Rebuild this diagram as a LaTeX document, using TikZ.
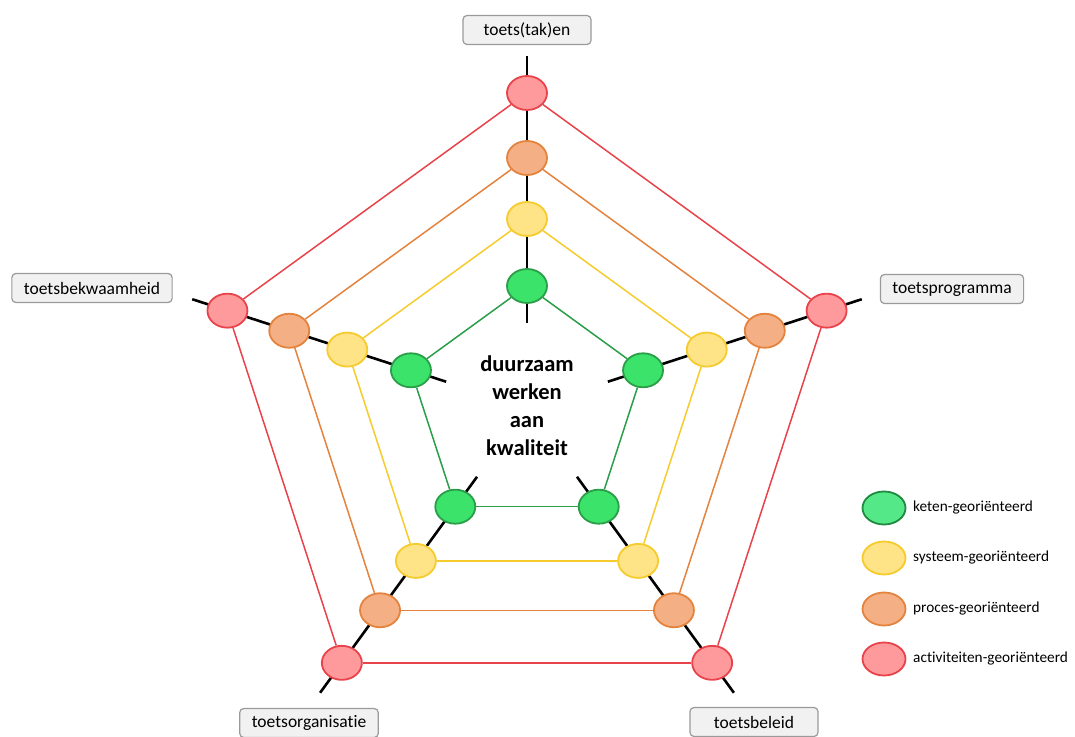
\documentclass[tikz,border=0pt]{standalone}
\usepackage{fontspec}
\setmainfont{Carlito}[Ligatures={NoCommon}]
\usetikzlibrary{shapes.geometric}
\definecolor{redfill}{HTML}{FF9A9C}
\definecolor{redline}{HTML}{E8434B}
\definecolor{orafill}{HTML}{F4B084}
\definecolor{oraline}{HTML}{E4833E}
\definecolor{yelfill}{HTML}{FFE487}
\definecolor{yelline}{HTML}{F5CB2E}
\definecolor{grnfill}{HTML}{3CE36B}
\definecolor{grnline}{HTML}{2A9E48}
\definecolor{grnfillL}{HTML}{55E888}
\definecolor{grnlineL}{HTML}{1F8A40}
\definecolor{boxfill}{HTML}{F1F1F1}
\definecolor{boxline}{HTML}{9A9A9A}
\begin{document}
\begin{tikzpicture}[x=1pt,y=1pt,
  dot/.style={ellipse, minimum width=40pt, minimum height=34pt, inner sep=0pt, line width=1.8pt},
  reddot/.style={dot, fill=redfill, draw=redline},
  oradot/.style={dot, fill=orafill, draw=oraline},
  yeldot/.style={dot, fill=yelfill, draw=yelline},
  grndot/.style={dot, fill=grnfill, draw=grnline},
  legdot/.style={ellipse, minimum width=43pt, minimum height=33pt, inner sep=0pt, line width=1.8pt},
  axis/.style={line width=2.6pt, black},
  ring/.style={line width=1.5pt},
  lbl/.style={draw=boxline, fill=boxfill, rounded corners=4pt, line width=1.2pt, font=\fontsize{17.5}{20}\selectfont, minimum height=29pt, minimum width=128pt, inner xsep=12pt},
  legtxt/.style={anchor=west, font=\fontsize{15.3}{18}\selectfont, inner sep=0pt}
]
\useasboundingbox (0,0) rectangle (1075,736);
\coordinate (c) at (527,328);
\foreach \i/\a in {0/90,1/18,2/-54,3/-126,4/162}{
  \coordinate (ai\i) at ([shift={(\a:85)}]c);
  \coordinate (ao\i) at ([shift={(\a:352)}]c);
  \draw[axis] (ai\i) -- (ao\i);
}
\foreach \i/\a in {0/90,1/18,2/-54,3/-126,4/162}{
  \node[reddot] (r\i) at ([shift={(\a:315)}]c) {};
  \node[oradot] (o\i) at ([shift={(\a:250)}]c) {};
  \node[yeldot] (y\i) at ([shift={(\a:189)}]c) {};
  \node[grndot] (g\i) at ([shift={(\a:122)}]c) {};
}
\foreach \i/\j in {0/1,1/2,2/3,3/4,4/0}{
  \draw[ring, redline] (r\i) -- (r\j);
  \draw[ring, oraline] (o\i) -- (o\j);
  \draw[ring, yelline] (y\i) -- (y\j);
  \draw[ring, grnline] (g\i) -- (g\j);
}
\node[align=center, font=\fontsize{22.5}{28}\selectfont\bfseries] (mid) at (527,330) {duurzaam\\werken\\aan\\kwaliteit};
\node[lbl] (l0) at (527,706) {toets(tak)en};
\node[lbl] (l1) at (952,447) {toetsprogramma};
\node[lbl] (l2) at (754,14) {toetsbeleid};
\node[lbl] (l3) at (309,13) {toetsorganisatie};
\node[lbl] (l4) at (92,448) {toetsbekwaamheid};
\node[legdot, fill=grnfillL, draw=grnlineL] (k1) at (884,228) {};
\node[legdot, fill=yelfill, draw=yelline] (k2) at (884,178) {};
\node[legdot, fill=orafill, draw=oraline] (k3) at (884,127) {};
\node[legdot, fill=redfill, draw=redline] (k4) at (884,77) {};
\node[legtxt] (t1) at (913,228) {keten-georiënteerd};
\node[legtxt] (t2) at (913,178) {systeem-georiënteerd};
\node[legtxt] (t3) at (913,127) {proces-georiënteerd};
\node[legtxt] (t4) at (913,77) {activiteiten-georiënteerd};
\end{tikzpicture}
\end{document}
